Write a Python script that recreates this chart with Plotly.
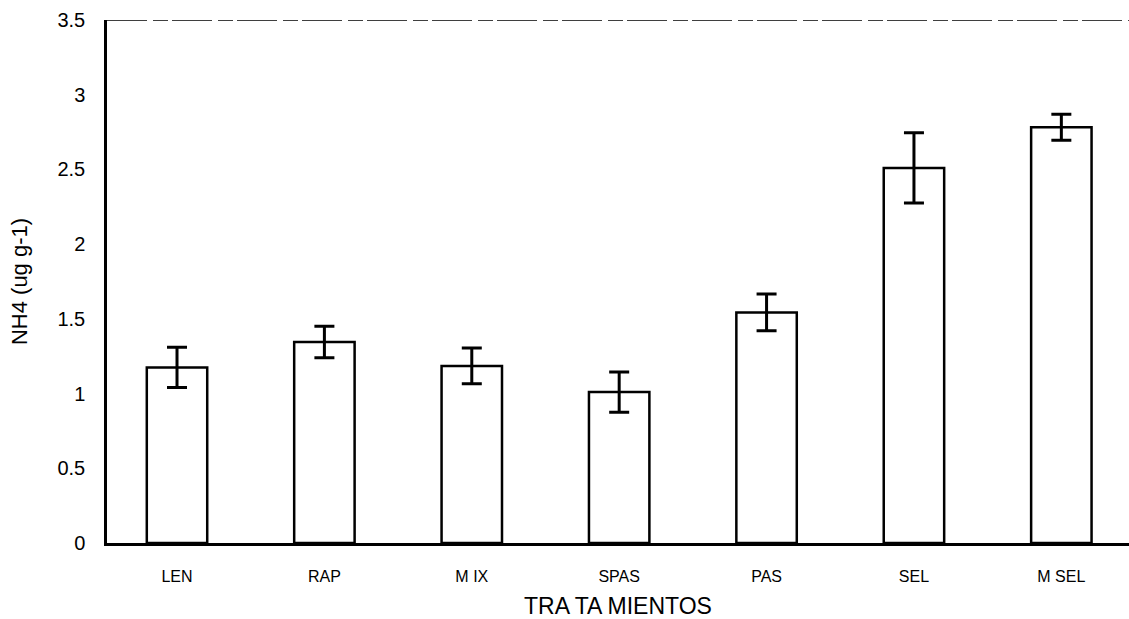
import plotly.graph_objects as go

# Treatments and mean NH4 concentrations with their standard errors
tratamientos = ["LEN", "RAP", "M IX", "SPAS", "PAS", "SEL", "M SEL"]
nh4_media = [1.175, 1.345, 1.185, 1.01, 1.543, 2.51, 2.783]
nh4_error = [0.135, 0.105, 0.12, 0.135, 0.123, 0.235, 0.087]

y_ticks = [0, 0.5, 1, 1.5, 2, 2.5, 3, 3.5]
y_tick_text = ["0", "0.5", "1", "1.5", "2", "2.5", "3", "3.5"]

font_family = "Liberation Sans, Arial, Helvetica, sans-serif"

fig = go.Figure(
    go.Bar(
        x=list(range(len(tratamientos))),
        y=nh4_media,
        width=0.41,
        marker=dict(color="white", line=dict(color="black", width=2.5)),
        error_y=dict(type="data", array=nh4_error, visible=True,
                     color="black", thickness=3, width=10),
        showlegend=False,
    )
)

fig.update_layout(
    width=1129,
    height=619,
    margin=dict(l=107, r=0, t=20, b=76),
    paper_bgcolor="white",
    plot_bgcolor="white",
    font=dict(family=font_family, color="black"),
    xaxis=dict(
        range=[-0.475, 6.459],
        tickmode="array",
        tickvals=list(range(len(tratamientos))),
        ticktext=tratamientos,
        tickfont=dict(size=16),
        ticks="outside",
        ticklen=0,
        ticklabelstandoff=17,
        showgrid=False,
        zeroline=False,
        showline=True,
        linecolor="black",
        linewidth=2.5,
        title=dict(text="TRA TA MIENTOS", font=dict(size=23), standoff=14),
    ),
    yaxis=dict(
        range=[0, 3.5],
        tickmode="array",
        tickvals=y_ticks,
        ticktext=y_tick_text,
        tickfont=dict(size=20),
        ticks="outside",
        ticklen=0,
        ticklabelstandoff=15,
        showgrid=False,
        zeroline=False,
        showline=True,
        linecolor="black",
        linewidth=2.5,
        title=dict(text="NH4 (ug g-1)", font=dict(size=22), standoff=24),
    ),
)

# Broken frame line along the top of the plot area
fig.add_shape(
    type="line", xref="paper", yref="y",
    x0=0, x1=1, y0=3.5, y1=3.5,
    line=dict(color="black", width=1.5, dash="40px,6px,15px,4px"),
)

fig.write_html("out.html")
